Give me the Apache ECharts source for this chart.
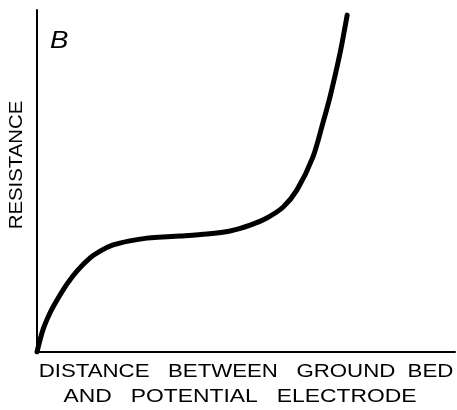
<!DOCTYPE html>
<html>
<head>
<meta charset="utf-8">
<script src="https://cdn.jsdelivr.net/npm/echarts@6/dist/echarts.min.js"></script>
<style>
html,body{margin:0;padding:0;background:#fff;}
#chart{width:457px;height:410px;}
</style>
</head>
<body>
<div id="chart"></div>
<script>
// Distance (relative units, 0-100) and resistance (relative units, 0-100)
const distance   = [0, 1.4, 3.1, 4.8, 7.2, 9.6, 12.7, 15.1, 18.2, 22.2, 26.3, 30.1, 34.2, 40.7, 46.2, 51.0, 55.0, 58.9, 62.2, 66.0, 68.4, 70.1, 72.5, 74.2];
const resistance = [0, 6.4, 11.4, 15.2, 19.9, 23.7, 27.5, 29.5, 31.3, 32.5, 33.3, 33.6, 33.9, 34.5, 35.4, 37.1, 39.2, 42.4, 47.4, 57.0, 67.0, 74.6, 87.4, 98.5];
const yTitle = 'RESISTANCE';
const xTitleLines = ['DISTANCE   BETWEEN   GROUND  BED', 'AND   POTENTIAL   ELECTRODE'];
const panelLabel = 'B';

const chart = echarts.init(document.getElementById('chart'), null, {renderer: 'canvas'});
const font = '"Liberation Sans", Arial, sans-serif';
chart.setOption({
  animation: false,
  backgroundColor: '#fff',
  grid: {left: 37, right: 2, top: 10, bottom: 58},
  xAxis: {
    type: 'value', min: 0, max: 100,
    axisLine: {show: true, onZero: false, lineStyle: {color: '#000', width: 2}},
    axisTick: {show: false}, axisLabel: {show: false}, splitLine: {show: false}
  },
  yAxis: {
    type: 'value', min: 0, max: 100,
    axisLine: {show: true, onZero: false, lineStyle: {color: '#000', width: 2}},
    axisTick: {show: false}, axisLabel: {show: false}, splitLine: {show: false}
  },
  series: [{
    type: 'line',
    data: distance.map((d, i) => [d, resistance[i]]),
    smooth: 0.3,
    showSymbol: false,
    lineStyle: {color: '#000', width: 5, cap: 'round', join: 'round'}
  }],
  graphic: [
    {type: 'text', x: 50, y: 29, scaleX: 1.15, style: {text: panelLabel, font: 'italic 24px ' + font, fill: '#000'}},
    {type: 'text', x: 17, y: 165, rotation: Math.PI / 2, scaleX: 1.13,
     style: {text: yTitle, font: '18px ' + font, fill: '#000', align: 'center', verticalAlign: 'middle'}},
    {type: 'text', x: 246, y: 372, scaleX: 1.235,
     style: {text: xTitleLines[0], font: '18px ' + font, fill: '#000', align: 'center', verticalAlign: 'middle'}},
    {type: 'text', x: 240, y: 397, scaleX: 1.27,
     style: {text: xTitleLines[1], font: '18px ' + font, fill: '#000', align: 'center', verticalAlign: 'middle'}}
  ]
});
</script>
</body>
</html>
